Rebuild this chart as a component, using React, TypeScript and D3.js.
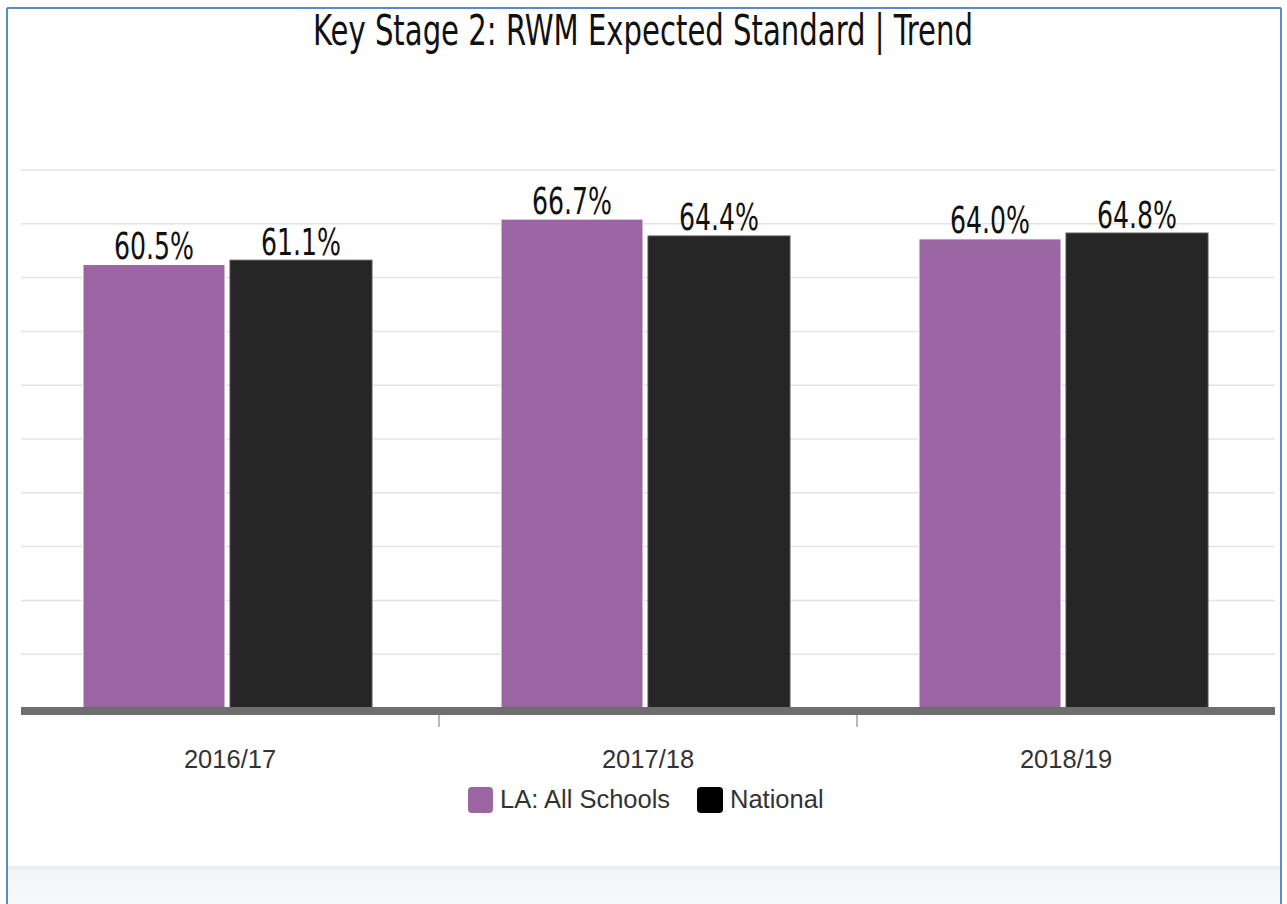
import React from 'react';
import * as d3 from 'd3';

// chart data
const years = ['2016/17', '2017/18', '2018/19'];
const seriesNames = ['LA: All Schools', 'National'];
const laValues = [60.5, 66.7, 64.0];
const nationalValues = [61.1, 64.4, 64.8];
const seriesColors = ['#9b64a3', '#262626'];
const seriesStroke = ['#ffffff', '#555555'];

const W = 1287;
const H = 904;
const plotLeft = 21;
const plotRight = 1275;
const plotTop = 170;
const plotBottom = 708;
const yMax = 73.4;
const gridCount = 10;

const condensed = '"Liberation Sans Narrow", "DejaVu Sans Condensed", "Roboto Condensed", Roboto, sans-serif';
const sans = 'Arial, "Liberation Sans", Helvetica, sans-serif';

export default function App() {
  const x0 = d3.scaleBand<string>().domain(years).range([plotLeft, plotRight]).padding(0);
  const bw = x0.bandwidth();
  const groupW = 289;
  const shift = -2.5; // groups sit a touch left of the band centre
  const x1 = d3
    .scaleBand<string>()
    .domain(seriesNames)
    .range([(bw - groupW) / 2 + shift, (bw + groupW) / 2 + shift])
    .paddingInner(5 / 147);
  const y = d3.scaleLinear().domain([0, yMax]).range([plotBottom, plotTop]);

  const grid = d3.range(1, gridCount + 1).map((i) => (i * yMax) / gridCount);
  const values = [laValues, nationalValues];

  return (
    <svg
      width={W}
      height={H}
      style={{ position: 'absolute', left: 0, top: 0, background: '#fff' }}
    >
      <defs>
        <linearGradient id="foot" x1="0" y1="0" x2="0" y2="1">
          <stop offset="0" stopColor="#e9eaec" />
          <stop offset="0.15" stopColor="#f4f5f7" />
          <stop offset="1" stopColor="#f7f8fa" />
        </linearGradient>
      </defs>

      {/* footer strip */}
      <rect x={8} y={866} width={1272} height={H - 866} fill="url(#foot)" />

      {/* frame */}
      <line x1={7} y1={8} x2={1281} y2={8} stroke="#5b8ac7" strokeWidth={2} />
      <line x1={7} y1={8} x2={7} y2={H} stroke="#5b8ac7" strokeWidth={2} />
      <line x1={1281} y1={8} x2={1281} y2={H} stroke="#5b8ac7" strokeWidth={2} />

      <text
        x={643}
        y={45}
        textAnchor="middle"
        fontFamily={condensed}
        fontSize={43}
        fill="#111"
        textLength={660}
        lengthAdjust="spacingAndGlyphs"
      >
        Key Stage 2: RWM Expected Standard | Trend
      </text>

      {grid.map((g) => (
        <line
          key={g}
          x1={plotLeft}
          x2={plotRight}
          y1={y(g)}
          y2={y(g)}
          stroke="#e4e4e4"
          strokeWidth={1.5}
        />
      ))}

      {years.map((yr, i) => (
        <g key={yr} transform={`translate(${x0(yr)},0)`}>
          {seriesNames.map((s, j) => {
            const v = values[j][i];
            const bx = x1(s) as number;
            return (
              <g key={s}>
                <rect
                  x={bx}
                  y={y(v)}
                  width={x1.bandwidth()}
                  height={plotBottom - y(v)}
                  fill={seriesColors[j]}
                  stroke={seriesStroke[j]}
                  strokeWidth={1}
                />
                <text
                  x={bx + x1.bandwidth() / 2}
                  y={y(v) - 5.5}
                  textAnchor="middle"
                  fontFamily={condensed}
                  fontSize={37}
                  fill="#111"
                  textLength={80}
                  lengthAdjust="spacingAndGlyphs"
                >
                  {v.toFixed(1)}%
                </text>
              </g>
            );
          })}
        </g>
      ))}

      {/* x axis */}
      <rect x={plotLeft} y={707} width={plotRight - plotLeft} height={8} fill="#6e6e6e" />
      {years.slice(1).map((yr) => (
        <line
          key={yr}
          x1={x0(yr)}
          x2={x0(yr)}
          y1={715}
          y2={727}
          stroke="#8fa6ba"
          strokeWidth={1.5}
        />
      ))}
      {years.map((yr) => (
        <text
          key={yr}
          x={(x0(yr) as number) + bw / 2}
          y={768}
          textAnchor="middle"
          fontFamily={sans}
          fontSize={25.5}
          fill="#333"
        >
          {yr}
        </text>
      ))}

      {/* legend */}
      <rect x={468} y={787} width={25} height={26} rx={4} fill={seriesColors[0]} />
      <text x={500} y={808} fontFamily={sans} fontSize={25.5} fill="#333">
        {seriesNames[0]}
      </text>
      <rect x={697} y={787} width={26} height={26} rx={4} fill="#000" />
      <text x={730} y={808} fontFamily={sans} fontSize={25.5} fill="#333">
        {seriesNames[1]}
      </text>
    </svg>
  );
}
